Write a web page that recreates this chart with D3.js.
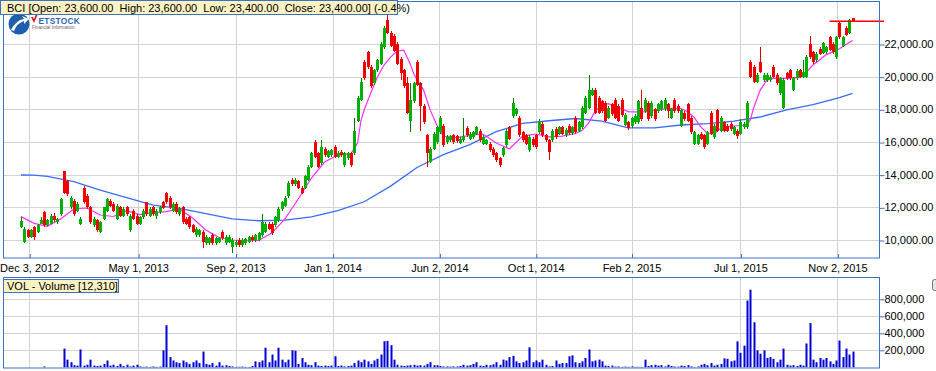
<!DOCTYPE html>
<html><head><meta charset="utf-8">
<script src="https://cdn.jsdelivr.net/npm/d3@7"></script>
<style>
body{margin:0;background:#fff;}
svg{display:block;font-family:"Liberation Sans",Arial,sans-serif;}
</style>
</head><body>
<svg id="c" width="936" height="371"></svg>
<script>
// ---------- DATA (prices in thousand VND, one entry per session) ----------
const legendText = "BCI [Open: 23,600.00  High: 23,600.00  Low: 23,400.00  Close: 23,400.00] (-0.4%)";
const volLegendText = "VOL - Volume [12,310]";

const open = [
10.8,9.9,10.6,10.2,10.8,10.5,11.0,11.7,10.9,11.0,
11.5,11.1,11.6,14.2,13.6,12.0,12.4,11.8,11.0,13.2,
12.7,12.0,10.9,11.2,10.5,11.3,11.8,12.4,12.2,11.3,
12.0,11.5,12.0,10.6,11.8,11.5,11.0,11.4,12.3,11.5,
12.0,11.5,11.7,12.35,12.9,12.6,11.8,12.2,11.6,12.0,
11.3,11.4,10.9,10.3,10.3,10.5,9.8,9.8,10.3,9.8,
9.9,10.5,9.8,9.9,9.6,9.7,10.0,9.7,9.8,9.85,
10.2,10.0,10.0,10.3,10.5,11.0,11.0,10.9,11.2,11.9,
12.1,12.7,13.7,13.4,13.6,13.2,13.2,13.7,14.5,16.0,
15.3,14.7,15.6,15.1,15.2,15.7,15.1,15.4,14.6,15.0,
15.3,15.3,17.3,18.6,20.9,21.5,20.6,19.6,20.4,20.8,
21.8,23.5,22.7,22.5,22.0,21.1,20.4,19.6,17.3,18.5,
20.9,19.6,18.2,16.4,14.8,15.6,16.0,16.6,17.0,16.0,
16.1,16.4,16.35,15.95,16.1,16.85,16.2,16.3,16.5,16.7,
15.9,15.85,15.9,15.6,15.3,15.0,15.2,15.8,16.9,17.6,
17.7,17.5,16.6,16.4,15.5,16.2,16.4,16.6,17.1,16.4,
16.1,16.1,16.8,16.5,16.9,16.4,17.0,16.55,17.5,16.7,
16.9,17.8,18.1,18.9,19.2,18.7,18.5,18.4,17.5,18.3,
18.6,18.2,18.6,17.05,17.2,16.95,17.2,17.2,18.1,17.9,
18.4,17.6,18.0,17.9,18.0,18.0,18.3,17.5,18.6,18.2,
17.0,17.8,18.3,17.5,15.9,15.9,16.5,16.4,15.9,17.8,
16.3,17.95,16.7,17.2,17.0,17.1,16.5,16.7,16.5,16.9,
16.9,20.9,20.6,19.7,20.9,19.8,19.8,19.8,20.6,20.1,
19.0,18.1,20.2,20.4,19.2,19.9,20.4,20.0,20.0,22.0,
21.5,21.0,21.7,21.45,21.5,22.4,22.0,21.2,23.3,21.9,
23.0,22.7,23.6];

const high = [
11.4,10.8,10.7,10.7,10.85,11.0,11.4,11.75,11.3,11.6,
11.65,11.35,12.6,14.25,13.7,12.7,12.5,12.3,11.4,13.3,
12.8,12.1,11.4,11.3,11.15,12.05,12.6,12.5,12.3,12.2,
12.1,12.0,12.1,11.6,11.9,11.6,11.5,11.9,12.35,12.0,
12.1,11.9,12.1,12.4,12.95,12.7,12.3,12.3,12.0,12.1,
11.4,11.5,11.0,10.8,10.7,10.6,10.3,10.2,10.4,10.2,
10.2,10.6,10.3,10.3,10.1,10.0,10.1,10.1,10.1,10.25,
10.3,10.35,10.5,11.6,11.1,11.1,11.1,11.5,12.0,12.4,
12.7,13.6,13.8,13.8,13.7,13.3,14.0,14.6,15.4,16.1,
15.4,16.1,15.7,15.5,15.6,15.8,15.45,15.5,15.4,15.4,
15.4,17.5,18.8,19.9,21.0,21.6,20.7,20.5,21.1,22.1,
23.1,23.75,22.8,22.6,22.1,21.2,20.5,20.0,19.6,19.7,
21.0,19.7,18.3,16.5,15.7,16.6,17.0,17.6,17.1,16.4,
16.45,16.5,16.45,16.3,17.5,16.95,16.6,16.7,17.0,16.8,
16.4,16.2,16.0,15.7,15.4,15.1,15.7,16.8,17.0,18.7,
18.1,17.6,16.7,16.5,16.4,16.3,16.5,17.4,17.2,16.5,
16.2,16.8,16.9,17.0,17.0,16.85,17.1,17.0,17.6,17.3,
18.2,18.8,20.1,19.3,19.3,18.8,18.6,18.5,18.2,18.4,
18.7,18.3,18.7,17.75,17.3,17.55,17.7,18.6,19.2,18.7,
18.5,18.5,18.1,18.4,18.6,18.7,18.4,18.1,18.7,18.3,
18.0,17.9,18.4,17.6,16.7,16.5,16.6,16.5,16.7,17.9,
17.1,18.0,17.6,17.3,17.1,17.2,17.0,16.8,17.4,17.2,
18.5,21.0,20.7,20.2,21.8,20.2,20.2,20.1,20.7,20.2,
20.0,19.9,20.3,20.5,20.0,20.45,20.5,21.0,21.3,22.5,
21.6,21.5,21.8,22.1,21.9,22.5,22.1,22.5,23.4,22.5,
23.1,23.55,23.6];

const low = [
10.75,9.8,10.1,10.1,10.0,10.4,10.95,10.8,10.85,10.95,
11.1,11.0,11.5,12.8,12.7,11.9,11.5,11.7,10.9,12.2,
11.9,11.0,10.8,10.5,10.45,11.2,11.7,12.0,11.7,11.2,
11.4,11.4,11.5,10.5,11.2,10.9,10.9,11.3,11.5,11.4,
11.5,11.3,11.6,11.9,12.2,11.9,11.7,11.6,11.5,11.0,
10.9,10.7,10.4,10.2,10.2,9.5,9.7,9.7,9.7,9.7,
9.8,10.0,9.7,9.8,9.2,9.6,9.6,9.6,9.7,9.8,
9.9,9.9,9.95,10.2,10.4,10.6,10.3,10.8,11.1,11.8,
12.0,12.6,13.3,13.3,13.1,12.8,13.1,13.6,14.4,15.0,
14.4,14.6,15.1,15.0,15.1,15.0,15.0,15.1,14.5,14.9,
14.5,15.2,17.2,18.5,19.8,20.5,19.3,19.5,20.3,20.7,
21.7,22.6,21.8,21.5,20.7,19.8,19.3,17.7,16.6,18.4,
19.4,16.7,17.1,14.5,14.7,15.5,15.9,16.5,15.7,15.9,
16.0,15.9,15.95,15.9,16.0,16.3,16.1,16.2,16.4,16.0,
15.8,15.8,15.4,15.1,14.8,14.45,15.1,15.7,16.1,17.5,
17.6,16.3,16.0,15.8,15.4,15.7,15.6,16.5,16.3,16.0,
14.9,16.0,16.2,16.4,16.4,16.3,16.45,16.45,16.5,16.6,
16.8,17.7,18.0,18.8,17.7,17.7,17.8,17.2,17.4,17.6,
17.4,17.2,17.55,16.95,16.75,16.85,17.1,17.1,17.3,17.8,
17.3,17.5,17.3,17.8,17.9,17.9,17.5,17.4,17.8,17.8,
16.9,17.3,17.2,16.5,15.8,15.8,16.1,15.6,15.8,16.4,
16.2,16.6,16.6,16.6,16.6,16.7,16.4,16.2,16.4,16.8,
16.8,19.9,19.6,19.6,20.2,19.7,19.7,19.7,19.9,19.5,
18.9,18.0,19.8,19.8,19.1,19.8,19.9,19.9,19.9,21.1,
20.8,20.9,21.3,21.4,21.4,21.6,21.4,21.1,22.3,21.8,
22.5,22.6,23.4];

const close = [
11.15,10.7,10.2,10.6,10.2,10.9,11.2,10.9,11.2,11.5,
11.2,11.3,12.5,12.9,12.8,12.6,11.6,12.2,11.3,12.3,
12.0,11.1,11.3,10.6,11.1,12.0,12.5,12.1,11.8,12.1,
11.5,11.9,11.6,11.5,11.3,11.0,11.4,11.8,11.6,11.9,
11.6,11.8,12.0,11.95,12.3,12.0,12.2,11.7,11.9,11.1,
11.0,10.8,10.5,10.7,10.6,9.9,10.2,10.1,9.8,10.1,
10.15,10.1,10.2,10.2,10.0,9.9,9.7,10.0,10.05,10.2,
10.0,10.3,10.4,11.1,11.0,10.7,10.4,11.4,11.9,12.3,
12.6,13.5,13.4,13.7,13.2,12.85,13.9,14.5,15.3,15.1,
14.5,15.7,15.2,15.45,15.5,15.1,15.35,15.2,15.3,15.3,
14.6,16.7,18.7,19.7,19.9,20.6,19.4,20.4,21.0,22.0,
23.0,22.7,21.9,21.6,20.8,20.2,19.4,17.8,18.6,19.6,
19.5,18.2,17.2,15.3,15.6,16.5,16.9,17.5,15.8,16.3,
16.35,16.0,16.05,16.2,16.35,16.4,16.5,16.6,16.9,16.1,
16.3,16.1,15.5,15.2,14.9,14.6,15.65,16.7,16.2,18.4,
18.0,16.4,16.1,15.9,16.3,15.8,15.7,17.3,16.4,16.1,
15.4,16.7,16.3,16.9,16.5,16.75,16.55,16.9,16.6,17.2,
18.1,18.7,19.2,19.2,17.8,17.8,17.9,17.3,18.1,17.7,
17.5,17.3,17.65,17.65,16.85,17.45,17.6,18.5,17.4,18.6,
17.4,18.4,17.4,18.3,18.5,18.6,17.9,18.0,17.9,17.9,
17.95,17.4,17.3,16.6,16.6,16.4,16.2,15.7,16.6,16.5,
17.0,16.7,17.5,16.7,16.7,16.8,16.9,16.35,17.2,17.1,
18.4,20.0,19.7,20.1,20.3,20.1,20.1,20.0,20.0,19.6,
19.9,19.8,19.9,19.9,19.9,20.35,20.0,20.3,21.2,21.2,
20.9,21.4,21.4,22.05,21.8,21.65,21.5,22.4,22.4,22.4,
22.55,23.5,23.4];

// volume, thousand shares
const volume = [
0,0,0,0,0,0,0,10,0,0,
0,0,0,220,90,60,25,20,210,20,
30,90,20,15,20,40,80,20,30,15,
40,15,30,10,20,30,10,5,8,5,
10,5,8,200,495,120,80,60,50,80,
60,40,60,80,50,185,40,30,50,20,
60,20,25,15,10,5,5,8,5,5,
15,70,60,80,230,60,150,80,230,90,
60,90,200,195,40,110,60,30,25,60,
20,15,20,15,20,130,15,20,10,15,
20,50,80,60,90,70,40,80,100,150,
307,310,260,90,30,20,15,20,25,30,
20,25,20,40,60,25,25,15,10,10,
8,10,10,15,30,20,25,40,60,20,
15,30,25,35,60,30,90,80,120,135,
70,50,60,80,235,60,80,60,90,30,
10,15,80,40,50,50,130,140,60,50,
70,110,210,70,80,90,70,20,15,20,
8,10,5,8,5,10,5,5,5,90,
15,25,30,20,25,10,30,15,10,8,
20,15,25,10,5,10,30,40,25,50,
20,30,40,105,100,70,80,305,170,255,
785,913,530,200,160,200,110,120,100,60,
90,220,30,20,25,15,30,20,280,520,
90,60,110,90,110,70,40,80,315,120,
220,150,185];

// fast moving average (pink), read at sessions
const maFastSession = [0,4,8,12,16,20,24,28,32,36,40,44,48,52,56,60,64,68,72,76,80,84,88,92,96,100,102,103,104,105,106,108,110,112,114,116,118,119,120,122,124,126,128,132,136,140,144,148,152,156,160,164,168,170,172,174,176,178,180,184,188,192,196,200,202,204,206,208,210,212,216,220,221,222,224,226,228,232,236,238,240,242,244,246,248,250,252];
const maFast = [11.43,11.02,10.84,11.29,11.9,11.96,11.53,11.44,11.8,11.56,11.68,11.74,11.9,11.35,10.61,10.15,10.0,9.97,9.97,10.43,11.29,12.51,13.79,14.77,15.2,15.29,15.94,17.3,17.96,18.5,19.0,19.98,20.71,21.2,21.57,21.63,20.75,20.2,19.8,19.18,17.95,17.04,16.35,16.27,16.4,16.49,15.94,15.57,16.36,16.49,16.32,16.36,16.52,16.7,17.16,17.89,18.26,18.35,18.2,17.86,17.83,17.93,18.06,18.05,17.85,17.5,16.93,16.52,16.49,16.84,16.98,17.04,17.34,18.08,19.18,19.79,19.9,19.9,19.96,20.28,20.71,21.02,21.35,21.52,21.71,21.97,22.21];

// slow moving average (blue), read at sessions
const maSlowSession = [0,4,8,16,24,32,40,48,56,64,72,80,88,96,104,112,120,128,136,144,152,160,168,176,184,192,200,208,216,224,232,240,248,252];
const maSlow = [13.98,13.97,13.89,13.58,13.06,12.6,12.14,11.94,11.62,11.29,11.18,11.22,11.42,11.8,12.34,13.3,14.44,15.23,15.84,16.63,17.14,17.3,17.44,17.28,16.87,16.87,17.04,17.13,17.28,17.53,17.96,18.29,18.72,18.98];

const tickLabels = ["Dec 3, 2012","May 1, 2013","Sep 2, 2013","Jan 1, 2014","Jun 2, 2014","Oct 1, 2014","Feb 2, 2015","Jul 1, 2015","Nov 2, 2015"];
const tickSessions = [2.5,35.5,65,94.4,126.8,156,185,218,247.4];
const priceTicks = [10,12,14,16,18,20,22];       // thousand
const volumeTicks = [200,400,600,800];           // thousand

// ---------- LAYOUT ----------
const svg = d3.select("#c");
const BORDER = "#3d6fc6", GRID = "#d3d3d3";
const P = {l:3.5, r:879.5, t:1.5, b:258};   // price panel
const V = {l:3.5, r:879.5, t:277.5, b:368}; // volume panel

const x = d3.scaleLinear().domain([0, close.length - 1]).range([21, 852.6]);
const y = d3.scaleLinear().domain([10, 22]).range([240, 44]);
const yv = d3.scaleLinear().domain([0, 800]).range([367.3, 299.3]);
const px = v => Math.round(v) + 0.5;

svg.append("defs").append("clipPath").attr("id","clipP")
  .append("rect").attr("x",P.l).attr("y",P.t).attr("width",P.r-P.l).attr("height",P.b-P.t);
svg.select("defs").append("clipPath").attr("id","clipV")
  .append("rect").attr("x",V.l).attr("y",V.t).attr("width",V.r-V.l).attr("height",V.b-V.t);

// ---- price panel grid ----
const gP = svg.append("g");
gP.selectAll("line.h").data(priceTicks).join("line")
  .attr("x1",P.l).attr("x2",P.r).attr("y1",d=>px(y(d))).attr("y2",d=>px(y(d)))
  .attr("stroke",GRID);
gP.selectAll("line.v").data(tickSessions).join("line")
  .attr("y1",P.t).attr("y2",P.b).attr("x1",d=>px(x(d))).attr("x2",d=>px(x(d)))
  .attr("stroke",GRID);

// ---- logo ----
const logo = svg.append("g");
logo.append("circle").attr("cx",19).attr("cy",24).attr("r",10.5).attr("fill","#1d5fae");
logo.append("path").attr("d","M11,30 Q16,20 24,19 L22,16 L29,19 L24,24 L24,21 Q17,23 14,31 Z").attr("fill","#fff");
logo.append("path").attr("d","M31,17 L34,23 L38,14 L36,14 L34,19 L33,17 Z").attr("fill","#e02020");
logo.append("text").attr("x",38.5).attr("y",23.5).attr("font-size",8.3).attr("font-weight","bold")
  .attr("fill","#2b63b6").attr("letter-spacing",0.3).text("ETSTOCK");
logo.append("text").attr("x",32).attr("y",28.5).attr("font-size",4.6)
  .attr("fill","#666").text("Financial Information");

// ---- moving averages ----
const gC = svg.append("g").attr("clip-path","url(#clipP)");
const lineF = d3.line().x(d=>x(d[0])).y(d=>y(d[1]));
gC.append("path").datum(maSlowSession.map((s,i)=>[s,maSlow[i]]))
  .attr("d",lineF).attr("fill","none").attr("stroke","#3a6cf4").attr("stroke-width",1.3);
gC.append("path").datum(maFastSession.map((s,i)=>[s,maFast[i]]))
  .attr("d",lineF).attr("fill","none").attr("stroke","#ff2cff").attr("stroke-width",1.2);

// ---- candles ----
const idx = d3.range(close.length);
const up = i => close[i] >= open[i];
gC.selectAll("line.wick").data(idx).join("line")
  .attr("x1",i=>px(x(i))).attr("x2",i=>px(x(i)))
  .attr("y1",i=>Math.round(y(high[i]))).attr("y2",i=>Math.round(y(low[i])))
  .attr("stroke",i=>up(i)?"#007a00":"#e00000").attr("stroke-width",1);
gC.selectAll("rect.body").data(idx).join("rect")
  .attr("x",i=>Math.round(x(i))-1)
  .attr("width",3)
  .attr("y",i=>Math.round(y(Math.max(open[i],close[i]))))
  .attr("height",i=>Math.max(1, Math.round(y(Math.min(open[i],close[i]))) - Math.round(y(Math.max(open[i],close[i])))))
  .attr("fill",i=>up(i)?"#00b000":"#f00000");

// last close marker line
const last = close.length - 1;
svg.append("line").attr("x1",x(last-7)).attr("x2",884)
  .attr("y1",y(close[last])).attr("y2",y(close[last]))
  .attr("stroke","#ff0000").attr("stroke-width",1.5);

// ---- price panel border & axes ----
svg.append("rect").attr("x",P.l).attr("y",P.t).attr("width",P.r-P.l).attr("height",P.b-P.t)
  .attr("fill","none").attr("stroke",BORDER);

const axR = svg.append("g").attr("transform",`translate(${P.r},0)`)
  .call(d3.axisRight(y).tickValues(priceTicks).tickSize(5).tickPadding(0)
    .tickFormat(d=>d3.format(",.2f")(d*1000)));
axR.select(".domain").remove();
axR.selectAll("line").attr("stroke",BORDER).attr("transform","translate(0,0.5)");
axR.selectAll("text").attr("font-size",11).attr("fill","#000")
   .attr("font-family","'Liberation Sans',Arial,sans-serif");

const axB = svg.append("g").attr("transform",`translate(0,${P.b})`)
  .call(d3.axisBottom(x).tickValues(tickSessions).tickSize(0).tickPadding(6)
    .tickFormat((d,i)=>tickLabels[i]));
axB.select(".domain").remove();
axB.selectAll("text").attr("font-size",11).attr("fill","#000")
   .attr("font-family","'Liberation Sans',Arial,sans-serif");
const axB2 = svg.append("g").attr("transform",`translate(0.5,${P.b})`)
  .call(d3.axisBottom(x).tickValues(tickSessions).tickSize(-4).tickFormat(""));
axB2.select(".domain").remove();
axB2.selectAll("line").attr("stroke",BORDER);

// ---- price legend ----
const lg = svg.append("g");
lg.append("rect").attr("x",0.5).attr("y",0.5).attr("width",397).attr("height",14)
  .attr("fill","#fdf2c2").attr("stroke",BORDER);
lg.append("text").attr("x",7).attr("y",11.5).attr("font-size",11).attr("fill","#000")
  .style("white-space","pre").text(legendText);

// ---- volume panel ----
const gV = svg.append("g");
gV.selectAll("line.h").data(volumeTicks).join("line")
  .attr("x1",V.l).attr("x2",V.r).attr("y1",d=>px(yv(d))).attr("y2",d=>px(yv(d)))
  .attr("stroke",GRID);
gV.selectAll("line.v").data(tickSessions).join("line")
  .attr("y1",V.t).attr("y2",V.b).attr("x1",d=>px(x(d))).attr("x2",d=>px(x(d)))
  .attr("stroke",GRID);
svg.append("g").attr("clip-path","url(#clipV)")
  .selectAll("rect").data(idx.filter(i=>volume[i]>0)).join("rect")
  .attr("x",i=>Math.round(x(i))-0.5).attr("width",2)
  .attr("y",i=>yv(volume[i])).attr("height",i=>yv(0)-yv(volume[i]))
  .attr("fill","#0000d6");
svg.append("rect").attr("x",V.l).attr("y",V.t).attr("width",V.r-V.l).attr("height",V.b-V.t)
  .attr("fill","none").attr("stroke",BORDER);
const axV = svg.append("g").attr("transform",`translate(${V.r},0)`)
  .call(d3.axisRight(yv).tickValues(volumeTicks).tickSize(5).tickPadding(0)
    .tickFormat(d=>d3.format(",")(d*1000)));
axV.select(".domain").remove();
axV.selectAll("line").attr("stroke",BORDER);
axV.selectAll("text").attr("font-size",11).attr("fill","#000")
   .attr("font-family","'Liberation Sans',Arial,sans-serif");

const vl = svg.append("g");
vl.append("rect").attr("x",3.5).attr("y",279.5).attr("width",115).attr("height",13)
  .attr("fill","#fdf2c2").attr("stroke",BORDER);
vl.append("text").attr("x",7).attr("y",290).attr("font-size",11).attr("fill","#000").text(volLegendText);

// small control button at the right edge
svg.append("rect").attr("x",932.5).attr("y",279.5).attr("width",8).attr("height",11).attr("rx",2)
  .attr("fill","#e4e4e4").attr("stroke","#777");
</script>
</body></html>
